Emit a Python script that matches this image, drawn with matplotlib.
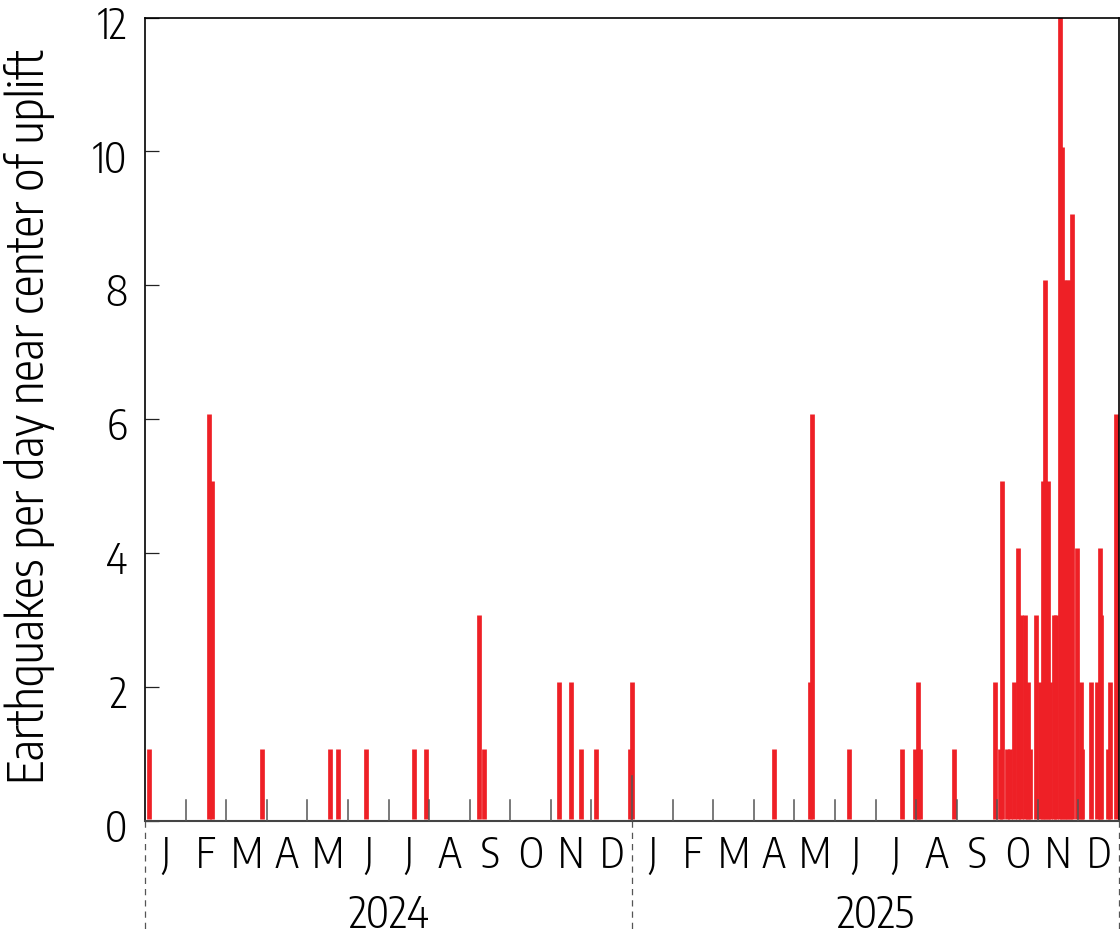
import matplotlib
matplotlib.use("Agg")
import matplotlib.pyplot as plt
import matplotlib.transforms as mtransforms

plt.rcParams['font.family'] = ['Encode Sans Condensed', 'DejaVu Sans']
plt.rcParams['font.weight'] = 300

# day number counted from 1 Jan 2024, and earthquakes on that day
quake_days = [3.0, 48.0, 50.0, 87.6, 138.5, 145, 165.9, 201.9, 210.9, 250.2, 254.2,
              310.8, 319.7, 326.8, 337.9, 364, 365.6,
              471.8, 498.7, 500.3, 528, 567.6, 577.6, 579.6, 581.3, 607.1,
              637.8, 641.2, 643.1, 646.4, 648.7, 651.8, 655.1, 657, 660, 662.2, 663.7,
              667.9, 671.2, 673.4, 675, 677.2, 678.8, 681.4, 683.1, 686.5, 688, 689.9,
              691.7, 693.7, 695.5, 699, 701.9, 703.1, 709.8, 714, 715.9, 717,
              721.9, 723.7, 728]
quake_counts = [1, 6, 5, 1, 1, 1, 1, 1, 1, 3, 1,
                2, 2, 1, 1, 1, 2,
                1, 2, 6, 1, 1, 1, 2, 1, 1,
                2, 1, 5, 1, 1, 2, 4, 3, 3, 2, 1,
                3, 2, 5, 8, 5, 2, 3, 3, 12, 10, 8,
                8, 8, 9, 4, 2, 1, 2, 2, 4, 3,
                1, 2, 6]

month_labels = list("JFMAMJJASOND") * 2
year_labels = ["2024", "2025"]
y_ticks = [0, 2, 4, 6, 8, 10, 12]

days_per_month = 730.5 / 24
total_days = 730.5

fig = plt.figure(figsize=(11.2, 9.4), dpi=100)
ax = fig.add_axes([145 / 1120, 1 - 820.5 / 940, 974 / 1120, 803 / 940])

# bars float just above the axis line and reach slightly past their count
tops = [c + 0.07 for c in quake_counts]
ax.vlines(quake_days, 0.02, tops, color='#ee2026', linewidth=3.4, zorder=2)

ax.set_xlim(0, total_days)
ax.set_ylim(0, 12)

# month boundary marks, taller at the new year
for m in range(1, 24):
    height = 0.66 if m == 12 else 0.3
    ax.plot([m * days_per_month] * 2, [0, height], color='#555555', lw=1.1, zorder=3)

ax.set_xticks([])
ax.set_yticks(y_ticks)
ax.tick_params(axis='y', direction='in', length=10, width=0.9, color='#222222',
               labelsize=30, pad=13)
down = mtransforms.ScaledTranslation(0, -3 / 72, fig.dpi_scale_trans)
for label in ax.get_yticklabels():
    label.set_transform(label.get_transform() + down)

for side in ['left', 'right', 'top']:
    ax.spines[side].set_linewidth(1.2)
    ax.spines[side].set_color('black')
ax.spines['bottom'].set_linewidth(1.5)
ax.spines['bottom'].set_color('#444444')

trans = ax.get_xaxis_transform()
for i, name in enumerate(month_labels):
    ax.text((i + 0.5) * days_per_month, -0.043, name, transform=trans,
            ha='center', va='center', fontsize=30, color='black')
for i, year in enumerate(year_labels):
    ax.text((i * 12 + 6) * days_per_month, -0.118, year, transform=trans,
            ha='center', va='center', fontsize=31, color='black')

# dashed year dividers under the axis
for m in [0, 12, 24]:
    ax.plot([m * days_per_month] * 2, [0, -0.137], transform=trans, clip_on=False,
            color='#555555', lw=0.9, linestyle=(0, (5, 4)))

fig.text(30 / 1120, 1 - 417 / 940, "Earthquakes per day near center of uplift",
         rotation=90, ha='center', va='center', fontsize=35, color='black')

fig.savefig("out.png", dpi=100)
